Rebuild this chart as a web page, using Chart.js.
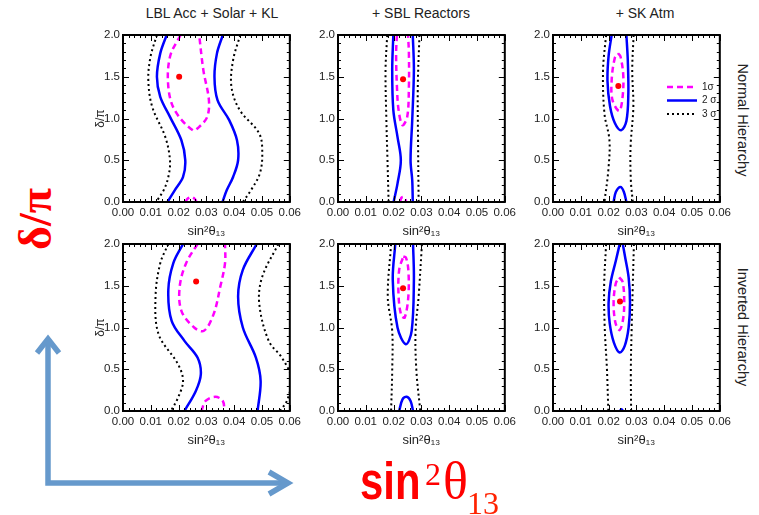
<!DOCTYPE html>
<html>
<head>
<meta charset="utf-8">
<script src="https://cdn.jsdelivr.net/npm/chart.js@4/dist/chart.umd.min.js"></script>
<style>
    body { margin: 0; background: #fff; width: 759px; height: 515px; position: relative; overflow: hidden; font-family: "Liberation Sans", Arial, sans-serif; }
    canvas { position: absolute; }
    .title { position: absolute; top: 5px; font-size: 14px; color: #222; transform: translateX(-50%); white-space: nowrap; }
    .rowLabel { position: absolute; width: 160px; height: 20px; line-height: 20px; text-align: center; font-size: 14.5px; color: #222; transform: rotate(90deg); white-space: nowrap; }
    .big { position: absolute; color: #ff0000; white-space: nowrap; line-height: 1; }
</style>
</head>
<body>

<div class="title" style="left:212px">LBL Acc + Solar + KL</div>
<div class="title" style="left:421px">+ SBL Reactors</div>
<div class="title" style="left:645px">+ SK Atm</div>

<div class="rowLabel" style="left:663px; top:110px">Normal Hierarchy</div>
<div class="rowLabel" style="left:663px; top:317px">Inverted Hierarchy</div>

<canvas id="nhLbl"></canvas>
<canvas id="nhSbl"></canvas>
<canvas id="nhSk"></canvas>
<canvas id="ihLbl"></canvas>
<canvas id="ihSbl"></canvas>
<canvas id="ihSk"></canvas>

<div class="big" style="left:-14px; top:194px; width:100px; height:50px; line-height:50px; text-align:center; font-family:'Liberation Serif', serif; font-weight:bold; font-size:46px; transform:rotate(-90deg)">δ/π</div>

<svg style="position:absolute; left:0; top:0" width="759" height="515">
    <g stroke="#6699cc" stroke-width="5.5" fill="none" stroke-linejoin="miter">
        <polyline points="48,339 48,483 287,483" />
        <polyline points="37,353 48,339 59,353" />
        <polyline points="269,472 288,483 269,494" />
    </g>
</svg>

<div class="big" style="left:360px; top:456px; font-family:'Liberation Sans', Arial, sans-serif; font-weight:bold; font-size:51px; transform:scaleX(0.82); transform-origin:left top">sin</div>
<div class="big" style="left:425px; top:458px; font-family:'Liberation Serif', serif; font-size:32px">2</div>
<div class="big" style="left:443px; top:455px; font-family:'Liberation Serif', serif; font-size:52px">θ</div>
<div class="big" style="left:467px; top:487px; font-family:'Liberation Serif', serif; font-size:32px; color:#ff2200">13</div>

<script>
const xTicks = [0, 0.01, 0.02, 0.03, 0.04, 0.05, 0.06];
const yTicks = [0, 0.5, 1.0, 1.5, 2.0];
const sigmaLabels = ["1σ", "2 σ", "3 σ"];

// Normal hierarchy, LBL Acc + Solar + KL
const nhLbl1sA = [[0.0207, 2.0], [0.0169, 1.74], [0.0163, 1.38], [0.0186, 1.10], [0.0251, 0.86], [0.0274, 0.90], [0.0303, 1.02], [0.0309, 1.22], [0.0289, 1.58], [0.0274, 2.0]];
const nhLbl1sB = [[0.0225, 0], [0.0232, 0.04], [0.0247, 0.06], [0.0260, 0.03], [0.0264, 0]];
const nhLbl2sA = [[0.0157, 2], [0.0134, 1.78], [0.0122, 1.5], [0.0134, 1.26], [0.0169, 1.02], [0.0210, 0.74], [0.0224, 0.5], [0.0216, 0.3], [0.0186, 0.14], [0.0160, 0]];
const nhLbl2sB = [[0.0359, 2], [0.0338, 1.78], [0.0329, 1.5], [0.0340, 1.22], [0.0382, 0.98], [0.0410, 0.74], [0.0414, 0.5], [0.0396, 0.3], [0.0373, 0.14], [0.0358, 0]];
const nhLbl3sA = [[0.0122, 2], [0.0099, 1.74], [0.0091, 1.46], [0.0105, 1.14], [0.0152, 0.78], [0.0169, 0.5], [0.0163, 0.3], [0.0146, 0.14], [0.0119, 0]];
const nhLbl3sB = [[0.0422, 2], [0.0396, 1.7], [0.0390, 1.38], [0.0420, 1.1], [0.0490, 0.82], [0.0501, 0.58], [0.0492, 0.34], [0.0460, 0.14], [0.0431, 0]];
const nhLblBest = [0.0202, 1.5];

// Normal hierarchy, + SBL Reactors
const nhSbl1sA = [[0.0212, 2], [0.0209, 1.78], [0.0212, 1.38], [0.0218, 1.1], [0.0232, 0.92], [0.0249, 1.02], [0.0255, 1.38], [0.0255, 1.78], [0.0252, 2]];
const nhSbl1sB = [[0.0223, 0], [0.0228, 0.05], [0.0236, 0.06], [0.0243, 0.03], [0.0245, 0]];
const nhSbl2sA = [[0.0199, 2], [0.0195, 1.58], [0.0199, 1.1], [0.0214, 0.78], [0.0226, 0.5], [0.0214, 0.22], [0.0200, 0]];
const nhSbl2sB = [[0.0269, 2], [0.0273, 1.58], [0.0267, 0.98], [0.0261, 0.5], [0.0267, 0.26], [0.0269, 0]];
const nhSbl3sA = [[0.0177, 2], [0.0171, 1.58], [0.0174, 0.98], [0.0178, 0.5], [0.0182, 0]];
const nhSbl3sB = [[0.0293, 2], [0.0287, 1.38], [0.0288, 0.7], [0.0290, 0]];
const nhSblBest = [0.0234, 1.47];

// Normal hierarchy, + SK Atm
const nhSk1s = [[0.0234, 1.78], [0.0243, 1.74], [0.0253, 1.5], [0.0249, 1.22], [0.0238, 1.09], [0.0214, 1.22], [0.0211, 1.46], [0.0222, 1.72], [0.0234, 1.78]];
const nhSk2sA = [[0.0211, 2], [0.0200, 1.75], [0.0196, 1.45], [0.0205, 1.15], [0.0222, 0.95], [0.0245, 0.86], [0.0264, 0.97], [0.0271, 1.3], [0.0269, 1.7], [0.0264, 2]];
const nhSk2sB = [[0.0218, 0], [0.0226, 0.12], [0.0243, 0.18], [0.0255, 0.12], [0.0264, 0]];
const nhSk3sA = [[0.0191, 2], [0.0180, 1.58], [0.0185, 1.06], [0.0203, 0.74], [0.0199, 0.38], [0.0185, 0]];
const nhSk3sB = [[0.0290, 2], [0.0285, 1.58], [0.0289, 1.14], [0.0279, 0.66], [0.0280, 0.26], [0.0287, 0]];
const nhSkBest = [0.0235, 1.39];

// Inverted hierarchy, LBL Acc + Solar + KL
const ihLbl1sA = [[0.0268, 2], [0.0227, 1.77], [0.0204, 1.49], [0.0210, 1.2], [0.0256, 1.0], [0.0291, 0.96], [0.0326, 1.16], [0.0350, 1.49], [0.0367, 1.77], [0.0367, 2]];
const ihLbl1sB = [[0.0282, 0], [0.0297, 0.12], [0.0332, 0.17], [0.0359, 0.12], [0.0365, 0]];
const ihLbl2sA = [[0.0216, 2], [0.0181, 1.77], [0.0163, 1.45], [0.0175, 1.08], [0.0221, 0.84], [0.0268, 0.64], [0.0280, 0.44], [0.0262, 0.24], [0.0221, 0]];
const ihLbl2sB = [[0.0481, 2], [0.0431, 1.69], [0.0414, 1.37], [0.0431, 1.0], [0.0478, 0.64], [0.0495, 0.36], [0.0484, 0]];
const ihLbl3sA = [[0.0163, 2], [0.0134, 1.77], [0.0117, 1.37], [0.0128, 0.92], [0.0198, 0.56], [0.0216, 0.36], [0.0198, 0.16], [0.0172, 0]];
const ihLbl3sB = [[0.0559, 2], [0.0501, 1.61], [0.0490, 1.29], [0.0524, 0.84], [0.0571, 0.64], [0.0605, 0.4], [0.0592, 0.14], [0.0565, 0]];
const ihLblBest = [0.0263, 1.55];

// Inverted hierarchy, + SBL Reactors
const ihSbl1s = [[0.0235, 1.85], [0.0244, 1.84], [0.0253, 1.69], [0.0253, 1.37], [0.0240, 1.12], [0.0228, 1.14], [0.0218, 1.37], [0.0220, 1.69], [0.0235, 1.85]];
const ihSbl2sA = [[0.0206, 2], [0.0197, 1.57], [0.0214, 1.0], [0.0244, 0.8], [0.0265, 0.96], [0.0273, 1.57], [0.0270, 2]];
const ihSbl2sB = [[0.0220, 0], [0.0232, 0.14], [0.0247, 0.17], [0.0261, 0.12], [0.0270, 0]];
const ihSbl3sA = [[0.0191, 2], [0.0179, 1.37], [0.0195, 0.96], [0.0195, 0.48], [0.0191, 0]];
const ihSbl3sB = [[0.0302, 2], [0.0290, 1.37], [0.0279, 0.96], [0.0282, 0.48], [0.0296, 0]];
const ihSblBest = [0.0234, 1.47];

// Inverted hierarchy, + SK Atm
const ihSk1s = [[0.0238, 1.6], [0.0250, 1.55], [0.0256, 1.35], [0.0253, 1.12], [0.0240, 0.97], [0.0225, 1.05], [0.0218, 1.3], [0.0226, 1.53], [0.0238, 1.6]];
const ihSk2sA = [[0.0240, 2], [0.0226, 1.8], [0.0208, 1.55], [0.0200, 1.3], [0.0204, 1.05], [0.0219, 0.82], [0.0240, 0.70], [0.0258, 0.78], [0.0272, 1.0], [0.0277, 1.3], [0.0272, 1.6], [0.0259, 1.85], [0.0251, 2]];
const ihSk2sB = [[0.0242, 0.005], [0.0246, 0.02], [0.0250, 0.005], [0.0242, 0.005]];
const ihSk3sA = [[0.0191, 2], [0.0184, 1.5], [0.0186, 1.0], [0.0194, 0.5], [0.0199, 0]];
const ihSk3sB = [[0.0291, 2], [0.0287, 1.5], [0.0283, 1.0], [0.0280, 0.5], [0.0281, 0]];
const ihSkBest = [0.0241, 1.31];

const STYLES = [
    { color: "#ff00ff", width: 2.5, dash: [6, 4] },
    { color: "#0000ff", width: 2.5, dash: [] },
    { color: "#000000", width: 2, dash: [2, 3] },
];

const PLOT_W = 172;
const PLOT_H = 167;
const AXIS_W = 45;
const AXIS_H = 45;
const PAD = 10;

document.addEventListener("DOMContentLoaded", () => {
    renderPanel("nhLbl", 123, 35, [[nhLbl1sA, nhLbl1sB], [nhLbl2sA, nhLbl2sB], [nhLbl3sA, nhLbl3sB]], nhLblBest, true, false);
    renderPanel("nhSbl", 338, 35, [[nhSbl1sA, nhSbl1sB], [nhSbl2sA, nhSbl2sB], [nhSbl3sA, nhSbl3sB]], nhSblBest, false, false);
    renderPanel("nhSk", 553, 35, [[nhSk1s], [nhSk2sA, nhSk2sB], [nhSk3sA, nhSk3sB]], nhSkBest, false, true);
    renderPanel("ihLbl", 123, 244, [[ihLbl1sA, ihLbl1sB], [ihLbl2sA, ihLbl2sB], [ihLbl3sA, ihLbl3sB]], ihLblBest, true, false);
    renderPanel("ihSbl", 338, 244, [[ihSbl1s], [ihSbl2sA, ihSbl2sB], [ihSbl3sA, ihSbl3sB]], ihSblBest, false, false);
    renderPanel("ihSk", 553, 244, [[ihSk1s], [ihSk2sA, ihSk2sB], [ihSk3sA, ihSk3sB]], ihSkBest, false, false);
});

const framePlugin = {
    id: "frame",
    afterDatasetsDraw(chart) {
        const { ctx, chartArea: a, scales: { x, y } } = chart;
        ctx.save();
        ctx.strokeStyle = "#000";
        ctx.lineWidth = 1;
        ctx.beginPath();
        for (let i = 0; i <= 30; i++) {
            const px = Math.round(x.getPixelForValue(i * 0.002)) + 0.5;
            const len = i % 5 === 0 ? 6 : 3;
            ctx.moveTo(px, a.bottom); ctx.lineTo(px, a.bottom - len);
            ctx.moveTo(px, a.top); ctx.lineTo(px, a.top + len);
        }
        for (let i = 0; i <= 20; i++) {
            const py = Math.round(y.getPixelForValue(i * 0.1)) + 0.5;
            const len = i % 5 === 0 ? 6 : 3;
            ctx.moveTo(a.left, py); ctx.lineTo(a.left + len, py);
            ctx.moveTo(a.right, py); ctx.lineTo(a.right - len, py);
        }
        ctx.stroke();
        ctx.lineWidth = 2;
        ctx.strokeRect(a.left, a.top, a.right - a.left, a.bottom - a.top);

        if (chart.options.plugins.frame && chart.options.plugins.frame.legend) {
            STYLES.forEach((s, i) => {
                const ly = a.top + 52 + i * 13.5;
                ctx.strokeStyle = s.color;
                ctx.lineWidth = s.width;
                ctx.setLineDash(s.dash);
                ctx.beginPath();
                ctx.moveTo(a.left + 114, ly);
                ctx.lineTo(a.left + 144, ly);
                ctx.stroke();
                ctx.setLineDash([]);
                ctx.fillStyle = "#222";
                ctx.font = "10px 'Liberation Sans', Arial, sans-serif";
                ctx.textBaseline = "middle";
                ctx.fillText(sigmaLabels[i], a.left + 149, ly);
            });
        }
        ctx.restore();
    },
};

function renderPanel(id, plotLeft, plotTop, contours, best, showYTitle, showLegend) {
    const canvas = document.getElementById(id);
    canvas.width = PLOT_W + AXIS_W + PAD;
    canvas.height = PLOT_H + AXIS_H + PAD;
    canvas.style.left = (plotLeft - AXIS_W) + "px";
    canvas.style.top = (plotTop - PAD) + "px";

    const datasets = [];
    contours.forEach((group, level) => {
        const s = STYLES[level];
        group.forEach((line) => {
            datasets.push({
                data: line.map((p) => ({ x: p[0], y: p[1] })),
                showLine: true,
                borderColor: s.color,
                borderWidth: s.width,
                borderDash: s.dash,
                pointRadius: 0,
                tension: 0.35,
                fill: false,
            });
        });
    });
    datasets.push({
        data: [{ x: best[0], y: best[1] }],
        pointRadius: 3,
        pointBackgroundColor: "#ff0000",
        pointBorderWidth: 0,
        showLine: false,
    });

    new Chart(canvas, {
        type: "scatter",
        data: { datasets },
        options: {
            responsive: false,
            animation: false,
            devicePixelRatio: 1,
            layout: { padding: { top: PAD, right: PAD, left: 0, bottom: 0 } },
            plugins: {
                legend: { display: false },
                tooltip: { enabled: false },
                frame: { legend: showLegend },
            },
            scales: {
                x: {
                    min: 0,
                    max: 0.06,
                    afterBuildTicks: (scale) => { scale.ticks = xTicks.map((v) => ({ value: v })); },
                    afterFit: (scale) => { scale.height = AXIS_H; },
                    grid: { display: false, drawTicks: false },
                    border: { display: false },
                    ticks: {
                        padding: 4,
                        color: "#222",
                        maxRotation: 0,
                        autoSkip: false,
                        font: { family: "'Liberation Sans', Arial, sans-serif", size: 11.5 },
                        callback: (v) => Number(v).toFixed(2),
                    },
                    title: {
                        display: true,
                        text: "sin²θ₁₃",
                        color: "#222",
                        padding: { top: 0, bottom: 8 },
                        font: { family: "'Liberation Sans', Arial, sans-serif", size: 13 },
                    },
                },
                y: {
                    min: 0,
                    max: 2,
                    afterBuildTicks: (scale) => { scale.ticks = yTicks.map((v) => ({ value: v })); },
                    afterFit: (scale) => { scale.width = AXIS_W; },
                    grid: { display: false, drawTicks: false },
                    border: { display: false },
                    ticks: {
                        padding: 3,
                        color: "#222",
                        autoSkip: false,
                        font: { family: "'Liberation Sans', Arial, sans-serif", size: 11.5 },
                        callback: (v) => Number(v).toFixed(1),
                    },
                    title: {
                        display: showYTitle,
                        text: "δ/π",
                        color: "#222",
                        padding: { top: 15, bottom: 0 },
                        font: { family: "'Liberation Sans', Arial, sans-serif", size: 12 },
                    },
                },
            },
        },
        plugins: [framePlugin],
    });
}
</script>
</body>
</html>
